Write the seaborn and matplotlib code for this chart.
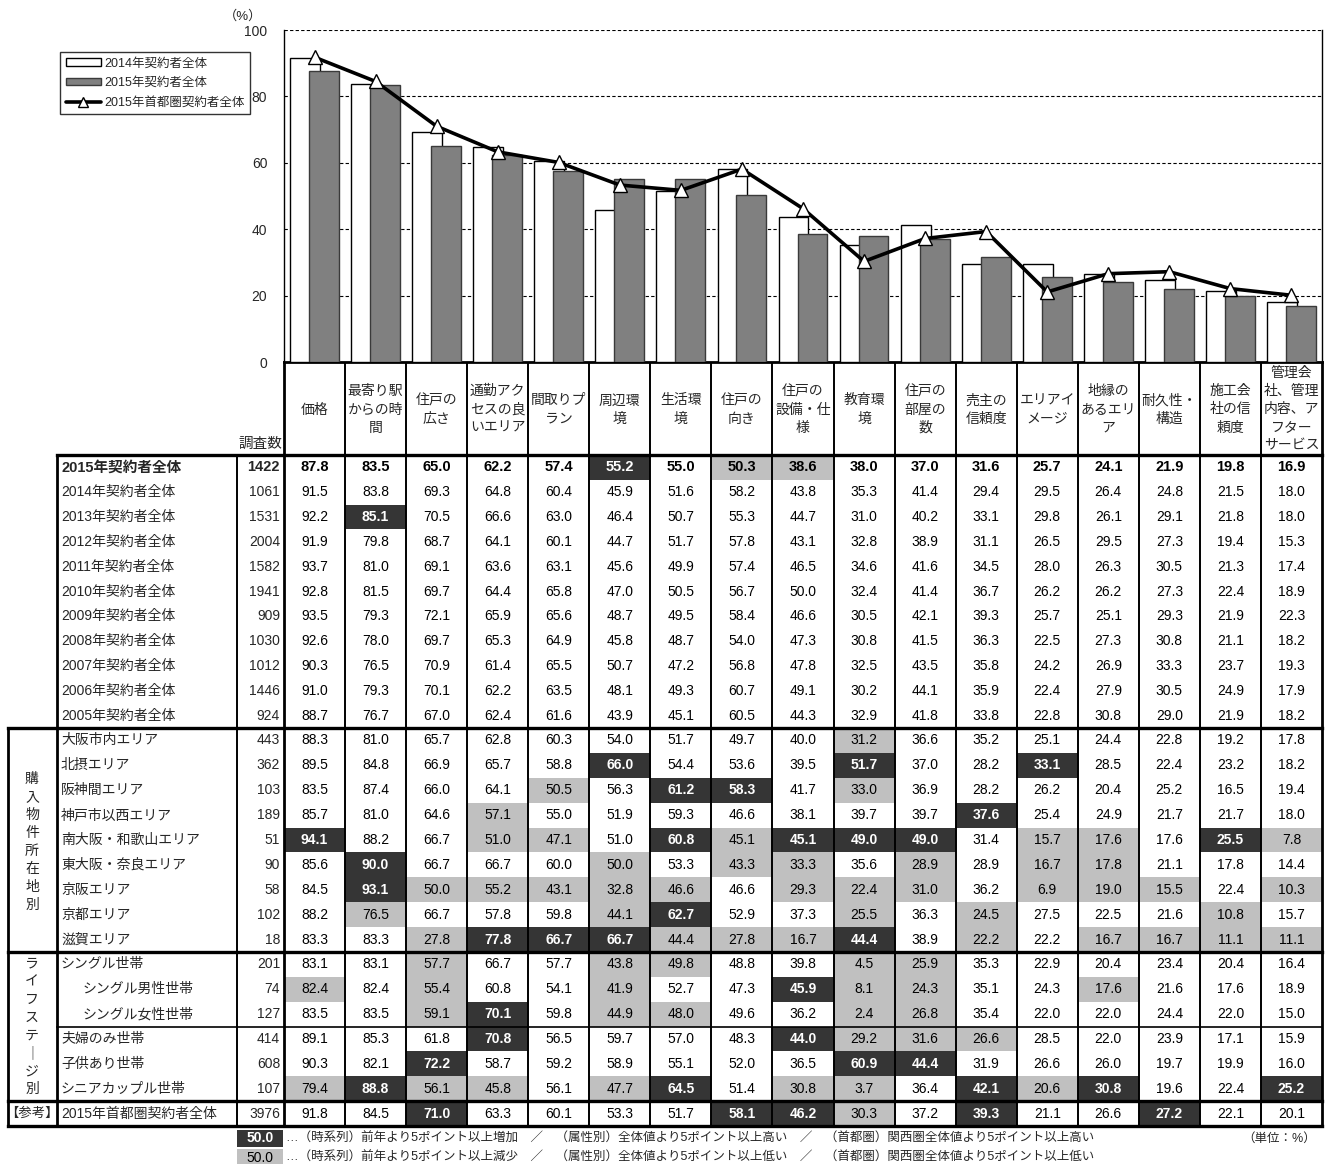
import numpy as np
import pandas as pd
import matplotlib
matplotlib.use("Agg")
import matplotlib.pyplot as plt
import seaborn as sns
from matplotlib.patches import Rectangle
from matplotlib.lines import Line2D

# ---------------- data ----------------
items = ["価格", "最寄り駅\nからの時\n間", "住戸の\n広さ", "通勤アク\nセスの良\nいエリア",
         "間取りプ\nラン", "周辺環\n境", "生活環\n境", "住戸の\n向き", "住戸の\n設備・仕\n様",
         "教育環\n境", "住戸の\n部屋の\n数", "売主の\n信頼度", "エリアイ\nメージ",
         "地縁の\nあるエリ\nア", "耐久性・\n構造", "施工会\n社の信\n頼度",
         "管理会\n社、管理\n内容、ア\nフター\nサービス"]

y2015 = [87.8, 83.5, 65.0, 62.2, 57.4, 55.2, 55.0, 50.3, 38.6, 38.0, 37.0, 31.6, 25.7, 24.1, 21.9, 19.8, 16.9]
y2014 = [91.5, 83.8, 69.3, 64.8, 60.4, 45.9, 51.6, 58.2, 43.8, 35.3, 41.4, 29.4, 29.5, 26.4, 24.8, 21.5, 18.0]
y2013 = [92.2, 85.1, 70.5, 66.6, 63.0, 46.4, 50.7, 55.3, 44.7, 31.0, 40.2, 33.1, 29.8, 26.1, 29.1, 21.8, 18.0]
y2012 = [91.9, 79.8, 68.7, 64.1, 60.1, 44.7, 51.7, 57.8, 43.1, 32.8, 38.9, 31.1, 26.5, 29.5, 27.3, 19.4, 15.3]
y2011 = [93.7, 81.0, 69.1, 63.6, 63.1, 45.6, 49.9, 57.4, 46.5, 34.6, 41.6, 34.5, 28.0, 26.3, 30.5, 21.3, 17.4]
y2010 = [92.8, 81.5, 69.7, 64.4, 65.8, 47.0, 50.5, 56.7, 50.0, 32.4, 41.4, 36.7, 26.2, 26.2, 27.3, 22.4, 18.9]
y2009 = [93.5, 79.3, 72.1, 65.9, 65.6, 48.7, 49.5, 58.4, 46.6, 30.5, 42.1, 39.3, 25.7, 25.1, 29.3, 21.9, 22.3]
y2008 = [92.6, 78.0, 69.7, 65.3, 64.9, 45.8, 48.7, 54.0, 47.3, 30.8, 41.5, 36.3, 22.5, 27.3, 30.8, 21.1, 18.2]
y2007 = [90.3, 76.5, 70.9, 61.4, 65.5, 50.7, 47.2, 56.8, 47.8, 32.5, 43.5, 35.8, 24.2, 26.9, 33.3, 23.7, 19.3]
y2006 = [91.0, 79.3, 70.1, 62.2, 63.5, 48.1, 49.3, 60.7, 49.1, 30.2, 44.1, 35.9, 22.4, 27.9, 30.5, 24.9, 17.9]
y2005 = [88.7, 76.7, 67.0, 62.4, 61.6, 43.9, 45.1, 60.5, 44.3, 32.9, 41.8, 33.8, 22.8, 30.8, 29.0, 21.9, 18.2]

ts_labels = [f"{y}年契約者全体" for y in range(2015, 2004, -1)]
ts_n = [1422, 1061, 1531, 2004, 1582, 1941, 909, 1030, 1012, 1446, 924]
ts_vals = [y2015, y2014, y2013, y2012, y2011, y2010, y2009, y2008, y2007, y2006, y2005]

area_osaka = [88.3, 81.0, 65.7, 62.8, 60.3, 54.0, 51.7, 49.7, 40.0, 31.2, 36.6, 35.2, 25.1, 24.4, 22.8, 19.2, 17.8]
area_hokusetsu = [89.5, 84.8, 66.9, 65.7, 58.8, 66.0, 54.4, 53.6, 39.5, 51.7, 37.0, 28.2, 33.1, 28.5, 22.4, 23.2, 18.2]
area_hanshin = [83.5, 87.4, 66.0, 64.1, 50.5, 56.3, 61.2, 58.3, 41.7, 33.0, 36.9, 28.2, 26.2, 20.4, 25.2, 16.5, 19.4]
area_kobe = [85.7, 81.0, 64.6, 57.1, 55.0, 51.9, 59.3, 46.6, 38.1, 39.7, 39.7, 37.6, 25.4, 24.9, 21.7, 21.7, 18.0]
area_minami = [94.1, 88.2, 66.7, 51.0, 47.1, 51.0, 60.8, 45.1, 45.1, 49.0, 49.0, 31.4, 15.7, 17.6, 17.6, 25.5, 7.8]
area_higashi = [85.6, 90.0, 66.7, 66.7, 60.0, 50.0, 53.3, 43.3, 33.3, 35.6, 28.9, 28.9, 16.7, 17.8, 21.1, 17.8, 14.4]
area_keihan = [84.5, 93.1, 50.0, 55.2, 43.1, 32.8, 46.6, 46.6, 29.3, 22.4, 31.0, 36.2, 6.9, 19.0, 15.5, 22.4, 10.3]
area_kyoto = [88.2, 76.5, 66.7, 57.8, 59.8, 44.1, 62.7, 52.9, 37.3, 25.5, 36.3, 24.5, 27.5, 22.5, 21.6, 10.8, 15.7]
area_shiga = [83.3, 83.3, 27.8, 77.8, 66.7, 66.7, 44.4, 27.8, 16.7, 44.4, 38.9, 22.2, 22.2, 16.7, 16.7, 11.1, 11.1]
area_labels = ["大阪市内エリア", "北摂エリア", "阪神間エリア", "神戸市以西エリア", "南大阪・和歌山エリア",
               "東大阪・奈良エリア", "京阪エリア", "京都エリア", "滋賀エリア"]
area_n = [443, 362, 103, 189, 51, 90, 58, 102, 18]
area_vals = [area_osaka, area_hokusetsu, area_hanshin, area_kobe, area_minami,
             area_higashi, area_keihan, area_kyoto, area_shiga]

life_single = [83.1, 83.1, 57.7, 66.7, 57.7, 43.8, 49.8, 48.8, 39.8, 4.5, 25.9, 35.3, 22.9, 20.4, 23.4, 20.4, 16.4]
life_single_m = [82.4, 82.4, 55.4, 60.8, 54.1, 41.9, 52.7, 47.3, 45.9, 8.1, 24.3, 35.1, 24.3, 17.6, 21.6, 17.6, 18.9]
life_single_f = [83.5, 83.5, 59.1, 70.1, 59.8, 44.9, 48.0, 49.6, 36.2, 2.4, 26.8, 35.4, 22.0, 22.0, 24.4, 22.0, 15.0]
life_couple = [89.1, 85.3, 61.8, 70.8, 56.5, 59.7, 57.0, 48.3, 44.0, 29.2, 31.6, 26.6, 28.5, 22.0, 23.9, 17.1, 15.9]
life_child = [90.3, 82.1, 72.2, 58.7, 59.2, 58.9, 55.1, 52.0, 36.5, 60.9, 44.4, 31.9, 26.6, 26.0, 19.7, 19.9, 16.0]
life_senior = [79.4, 88.8, 56.1, 45.8, 56.1, 47.7, 64.5, 51.4, 30.8, 3.7, 36.4, 42.1, 20.6, 30.8, 19.6, 22.4, 25.2]
life_labels = ["シングル世帯", "シングル男性世帯", "シングル女性世帯", "夫婦のみ世帯", "子供あり世帯", "シニアカップル世帯"]
life_indent = [False, True, True, False, False, False]
life_n = [201, 74, 127, 414, 608, 107]
life_vals = [life_single, life_single_m, life_single_f, life_couple, life_child, life_senior]

shutoken_label = "2015年首都圏契約者全体"
shutoken_n = 3976
shutoken = [91.8, 84.5, 71.0, 63.3, 60.1, 53.3, 51.7, 58.1, 46.2, 30.3, 37.2, 39.3, 21.1, 26.6, 27.2, 22.1, 20.1]

s2014 = "2014年契約者全体"
s2015 = "2015年契約者全体"
s_line = "2015年首都圏契約者全体"

# ---------------- style ----------------
sns.set_style("white")
plt.rcParams["font.family"] = ["Liberation Sans", "Noto Sans CJK JP", "DejaVu Sans"]
plt.rcParams["axes.unicode_minus"] = False

W, H = 1325, 1164
fig = plt.figure(figsize=(W / 100, H / 100), dpi=100)
fig.patch.set_facecolor("white")

ax_t = fig.add_axes([0, 0, 1, 1])
ax_t.set_xlim(0, W)
ax_t.set_ylim(H, 0)
ax_t.axis("off")

X0, X1 = 284, 1322
ax = fig.add_axes([X0 / W, 1 - 362 / H, (X1 - X0) / W, (362 - 30) / H])

DARK = "#353535"
LIGHT = "#c0c0c0"
GRAY = "#808080"

# ---------------- bar chart ----------------
df = pd.DataFrame({
    "項目": items * 2,
    "系列": [s2014] * len(items) + [s2015] * len(items),
    "値": y2014 + y2015,
})
sns.barplot(data=df, x="項目", y="値", hue="系列",
            palette={s2014: "white", s2015: GRAY}, saturation=1,
            width=0.62, dodge=True, edgecolor="black", linewidth=1.0,
            legend=False, ax=ax, zorder=3)
for cont, ec in zip(ax.containers, ["black", "#3a3a3a"]):
    for p in cont:
        c = p.get_x() + p.get_width() / 2
        p.set_width(0.49)
        p.set_x(c - 0.245)
        p.set_edgecolor(ec)

sns.lineplot(x=np.arange(len(items)), y=shutoken, ax=ax, color="black",
             linewidth=2.6, marker="^", markersize=10, markerfacecolor="white",
             markeredgecolor="black", markeredgewidth=1.0, zorder=5)

ax.set_xlim(-0.5, len(items) - 0.5)
ax.set_ylim(0, 100)
ax.set_yticks([0, 20, 40, 60, 80, 100])
ax.set_yticklabels(["0", "20", "40", "60", "80", "100"], fontsize=10)
ax.set_xticks([])
ax.set_xticks(np.arange(0.5, len(items) - 1, 1), minor=True)
ax.tick_params(axis="x", which="minor", direction="in", length=5, width=1, color="black")
ax.tick_params(axis="y", direction="out", length=4, width=1, color="black", pad=8)
ax.set_xlabel("")
ax.set_ylabel("")
ax.yaxis.grid(True, linestyle=(0, (3, 2)), color="black", linewidth=0.8, zorder=0)
ax.set_axisbelow(True)
for s in ["left", "right"]:
    ax.spines[s].set_color("black")
    ax.spines[s].set_linewidth(1.0)
ax.spines["top"].set_visible(False)
ax.spines["bottom"].set_color("black")
ax.spines["bottom"].set_linewidth(2.0)

handles = [Rectangle((0, 0), 1, 1, facecolor="white", edgecolor="black", linewidth=1),
           Rectangle((0, 0), 1, 1, facecolor=GRAY, edgecolor="#3a3a3a", linewidth=1),
           Line2D([0], [0], color="black", linewidth=2.6, marker="^", markersize=7,
                  markerfacecolor="white", markeredgecolor="black")]
leg = ax.legend(handles, [s2014, s2015, s_line], loc="upper left",
                bbox_to_anchor=(60 / W, 1 - 52 / H), bbox_transform=fig.transFigure,
                frameon=True, fancybox=False, edgecolor="black", fontsize=9,
                handlelength=2.8, handleheight=0.55, borderpad=0.45,
                labelspacing=0.6, handletextpad=0.3, borderaxespad=0)
leg.get_frame().set_linewidth(1.0)

fig.text(243 / W, 1 - 16 / H, "（%）", fontsize=9.5, ha="center", va="center")

# ---------------- table ----------------
col_w = (X1 - X0) / len(items)
col_x = [X0 + i * col_w for i in range(len(items) + 1)]
HEAD_TOP, HEAD_BOT = 362, 455

for j, lab in enumerate(items):
    ax_t.text(col_x[j] + col_w / 2, (HEAD_TOP + HEAD_BOT) / 2 + 1, lab, ha="center", va="center",
              fontsize=10, linespacing=1.38)
ax_t.text(260, 444, "調査数", ha="center", va="center", fontsize=10.5)


def flag(v, ref):
    d = round(v - ref, 1)
    if d >= 5.0 - 1e-9:
        return 1
    if d <= -5.0 + 1e-9:
        return -1
    return 0


rows = []
ts_top, ts_bot = HEAD_BOT, 728
h = (ts_bot - ts_top) / len(ts_vals)
for i, vals in enumerate(ts_vals):
    prev = ts_vals[i + 1] if i + 1 < len(ts_vals) else None
    rows.append(dict(label=ts_labels[i], n=ts_n[i], vals=vals, ref=prev,
                     top=ts_top + i * h, h=h, bold=(i == 0), indent=False))
ar_top, ar_bot = 728, 952
h = (ar_bot - ar_top) / len(area_vals)
for i, vals in enumerate(area_vals):
    rows.append(dict(label=area_labels[i], n=area_n[i], vals=vals, ref=y2015,
                     top=ar_top + i * h, h=h, bold=False, indent=False))
lf_top, lf_bot = 952, 1101
h = (lf_bot - lf_top) / len(life_vals)
for i, vals in enumerate(life_vals):
    rows.append(dict(label=life_labels[i], n=life_n[i], vals=vals, ref=y2015,
                     top=lf_top + i * h, h=h, bold=False, indent=life_indent[i]))
rf_top, rf_bot = 1101, 1126
rows.append(dict(label=shutoken_label, n=shutoken_n, vals=shutoken, ref=y2015,
                 top=rf_top, h=rf_bot - rf_top, bold=False, indent=False))

for r in rows:
    yc = r["top"] + r["h"] / 2
    fw = "bold" if r["bold"] else "normal"
    fs = 10.5 if r["bold"] else 10
    ax_t.text(83 if r["indent"] else 61, yc, r["label"], ha="left", va="center",
              fontsize=fs, fontweight=fw)
    ax_t.text(280, yc, f"{r['n']}", ha="right", va="center", fontsize=fs, fontweight=fw)
    for j, v in enumerate(r["vals"]):
        f = flag(v, r["ref"][j]) if r["ref"] is not None else 0
        color = "black"
        weight = fw
        if f == 1:
            ax_t.add_patch(Rectangle((col_x[j], r["top"]), col_w, r["h"], facecolor=DARK,
                                     edgecolor="none", zorder=1))
            color = "white"
            weight = "bold"
        elif f == -1:
            ax_t.add_patch(Rectangle((col_x[j], r["top"]), col_w, r["h"], facecolor=LIGHT,
                                     edgecolor="none", zorder=1))
        ax_t.text(col_x[j] + col_w / 2, yc, f"{v:.1f}", ha="center", va="center",
                  fontsize=fs, fontweight=weight, color=color, zorder=3)

# section labels
sec1 = list("購入物件所在地別")
c1 = (ar_top + ar_bot) / 2 + 2
for k, ch in enumerate(sec1):
    ax_t.text(32, c1 + (k - (len(sec1) - 1) / 2) * 18, ch, ha="center", va="center", fontsize=10)
sec2 = ["ラ", "イ", "フ", "ス", "テ", "｜", "ジ", "別"]
c2 = (lf_top + lf_bot) / 2
for k, ch in enumerate(sec2):
    ax_t.text(32, c2 + (k - (len(sec2) - 1) / 2) * 17.9, ch, ha="center", va="center", fontsize=10)
ax_t.text(32, (rf_top + rf_bot) / 2, "【参考】", ha="center", va="center", fontsize=9.6)

# grid lines
def vline(x, y0, y1, lw):
    ax_t.plot([x, x], [y0, y1], color="black", linewidth=lw, solid_capstyle="projecting", zorder=4)


def hline(y, x0, x1, lw):
    ax_t.plot([x0, x1], [y, y], color="black", linewidth=lw, solid_capstyle="projecting", zorder=4)


vline(X0, HEAD_TOP, rf_bot, 2.0)
for x in col_x[1:-1]:
    vline(x, HEAD_TOP, rf_bot, 1.4)
vline(col_x[-1], HEAD_TOP, rf_bot, 2.0)
vline(237, HEAD_BOT, rf_bot, 1.4)
vline(57, HEAD_BOT, rf_bot, 2.0)
vline(8, ar_top, rf_bot, 2.0)
hline(HEAD_BOT, 57, X1, 2.4)
hline(ar_top, 8, X1, 2.4)
hline(lf_top, 8, X1, 2.4)
hline(lf_top + 3 * (lf_bot - lf_top) / 6, 57, X1, 1.2)
hline(rf_top, 8, X1, 2.4)
hline(rf_bot, 8, X1, 2.4)

# footer legend
ax_t.add_patch(Rectangle((237, 1130), 46, 17, facecolor=DARK, edgecolor="none"))
ax_t.text(260, 1138.5, "50.0", ha="center", va="center", fontsize=10, fontweight="bold", color="white")
ax_t.add_patch(Rectangle((237, 1149), 46, 17, facecolor=LIGHT, edgecolor="none"))
ax_t.text(260, 1158, "50.0", ha="center", va="center", fontsize=10, color="black")
ax_t.text(286, 1138.5, "…（時系列）前年より5ポイント以上増加　／　（属性別）全体値より5ポイント以上高い　／　（首都圏）関西圏全体値より5ポイント以上高い",
          ha="left", va="center", fontsize=9)
ax_t.text(286, 1158, "…（時系列）前年より5ポイント以上減少　／　（属性別）全体値より5ポイント以上低い　／　（首都圏）関西圏全体値より5ポイント以上低い",
          ha="left", va="center", fontsize=9)
ax_t.text(1316, 1138.5, "（単位：%）", ha="right", va="center", fontsize=9)

fig.savefig("out.png", dpi=100, facecolor="white")
